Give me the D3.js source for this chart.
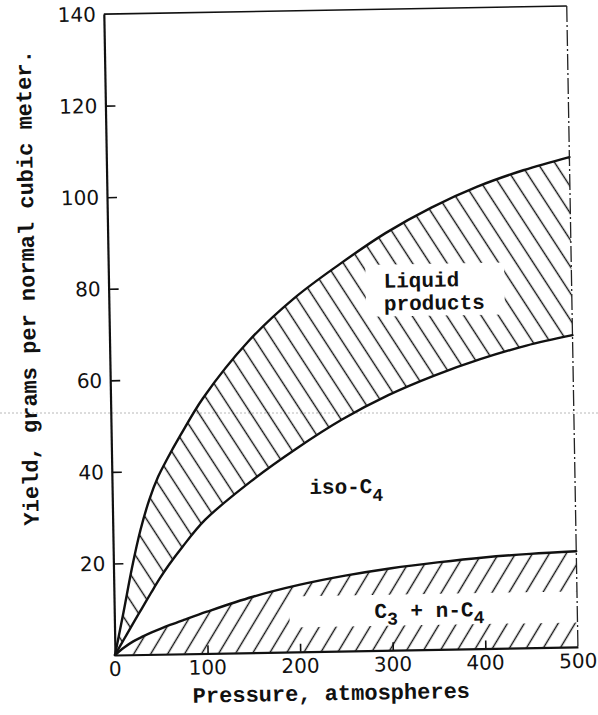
<!DOCTYPE html>
<html>
<head>
<meta charset="utf-8">
<script src="https://cdn.jsdelivr.net/npm/d3@7"></script>
<style>
  body { margin: 0; background: #fff; }
  text { fill: #111; }
</style>
</head>
<body>
<div id="chart"></div>
<script>
// pressure, atmospheres
var pressure = [0, 10, 20, 30, 40, 50, 60, 75, 100, 150, 200, 250, 300, 350, 400, 450, 500];
// top of the C3 + n-C4 band, g per normal m3
var c3nC4Top = [0, 1.6, 2.9, 3.9, 4.8, 5.6, 6.35, 7.4, 9.1, 12.2, 14.6, 16.45, 17.9, 19.0, 19.9, 20.5, 20.9];
// top of the iso-C4 band (all gas)
var isoC4Top = [0, 3.4, 6.8, 10.1, 13.4, 16.6, 19.5, 23.4, 29.2, 37.4, 44.4, 50.6, 55.7, 59.8, 63.2, 66.0, 68.1];
// top of the liquid products band (total yield)
var liquidTop = [0, 9.3, 19, 27.3, 33.8, 38.8, 42.6, 47.8, 55.8, 68, 77.2, 84.5, 91.1, 96.5, 100.9, 104.3, 107];

var xTicks = [0, 100, 200, 300, 400, 500];
var yTicks = [20, 40, 60, 80, 100, 120, 140];

var rows = pressure.map(function(p, i) {
  return {p: p, c3: c3nC4Top[i], iso: isoC4Top[i], liq: liquidTop[i]};
});

// the scan is a little turned, so the whole plot is turned with it
var ox = 115, oy = 655, pw = 463, ph = 641, tilt = -1;

var svg = d3.select("#chart").append("svg")
    .attr("width", 598).attr("height", 715);

svg.append("rect").attr("width", 598).attr("height", 715).attr("fill", "#fff");

// fold mark across the page
svg.append("line")
    .attr("x1", 0).attr("x2", 598).attr("y1", 413).attr("y2", 413)
    .attr("stroke", "#888").attr("stroke-width", 1)
    .attr("stroke-dasharray", "2,2").attr("opacity", 0.6);

var defs = svg.append("defs");

var g = svg.append("g")
    .attr("transform", "rotate(" + tilt + "," + ox + "," + oy + ")")
  .append("g")
    .attr("transform", "translate(" + ox + "," + (oy - ph) + ")");

var x = d3.scaleLinear().domain([0, 500]).range([0, pw]);
var y = d3.scaleLinear().domain([0, 140]).range([ph, 0]);

function hatch(id, angle, gap) {
  var p = defs.append("pattern")
      .attr("id", id)
      .attr("patternUnits", "userSpaceOnUse")
      .attr("width", gap).attr("height", gap)
      .attr("patternTransform", "rotate(" + angle + ")");
  p.append("line")
      .attr("x1", gap / 2).attr("x2", gap / 2)
      .attr("y1", -1).attr("y2", gap + 1)
      .attr("stroke", "#111").attr("stroke-width", 1.4);
}
hatch("back", -32, 14.5);
hatch("fwd", 32, 14.5);

var hatchLayer = g.append("g");
var lineLayer = g.append("g");
var textLayer = g.append("g");

var mono = "'Liberation Mono', 'DejaVu Sans Mono', monospace";

function typed(px, val, fs) {
  return textLayer.append("text")
      .attr("font-family", mono).attr("font-size", fs || 21).attr("font-weight", "bold")
      .attr("x", x(px)).attr("y", y(val));
}

// labels in the bands
var liq1 = typed(297, 79.2).text("Liquid");
var liq2 = typed(297, 74.2).text("products");

var iso = typed(213, 34.4);
iso.append("tspan").text("iso-C");
iso.append("tspan").attr("dy", 8).attr("font-size", 18).text("4");

var c3 = typed(281, 7.1);
c3.append("tspan").text("C");
c3.append("tspan").attr("dy", 7).attr("font-size", 18).text("3");
c3.append("tspan").attr("dy", -7).text(" + n-C");
c3.append("tspan").attr("dy", 7).attr("font-size", 18).text("4");

// gaps in the hatching round the labels
function gapMask(id, r) {
  var m = defs.append("mask").attr("id", id)
      .attr("maskUnits", "userSpaceOnUse")
      .attr("x", -50).attr("y", -50).attr("width", pw + 100).attr("height", ph + 100);
  m.append("rect").attr("x", -50).attr("y", -50)
      .attr("width", pw + 100).attr("height", ph + 100).attr("fill", "#fff");
  m.append("rect").attr("x", r.x).attr("y", r.y)
      .attr("width", r.w).attr("height", r.h).attr("fill", "#000");
}
var b1 = liq1.node().getBBox(), b2 = liq2.node().getBBox();
var bx = Math.min(b1.x, b2.x), bw = Math.max(b1.x + b1.width, b2.x + b2.width) - bx;
gapMask("liqGap", {x: bx - 18, y: b1.y - 6, w: bw + 38, h: b2.y + b2.height - b1.y + 6});
var c3y = y(7.1);
gapMask("c3Gap", {x: x(281) - 85, y: c3y - 23, w: pw - x(281) + 100, h: 31});

var curve = d3.curveCatmullRom.alpha(0.5);

var liquidArea = d3.area()
    .x(function(d) { return x(d.p); })
    .y0(function(d) { return y(d.iso); })
    .y1(function(d) { return y(d.liq); })
    .curve(curve);

var bottomArea = d3.area()
    .x(function(d) { return x(d.p); })
    .y0(y(0))
    .y1(function(d) { return y(d.c3); })
    .curve(curve);

hatchLayer.append("path")
    .attr("d", liquidArea(rows))
    .attr("fill", "url(#back)")
    .attr("mask", "url(#liqGap)");

hatchLayer.append("path")
    .attr("d", bottomArea(rows))
    .attr("fill", "url(#fwd)")
    .attr("mask", "url(#c3Gap)");

// the three curves
["liq", "iso", "c3"].forEach(function(k) {
  lineLayer.append("path")
      .attr("d", d3.line()
          .x(function(d) { return x(d.p); })
          .y(function(d) { return y(d[k]); })
          .curve(curve)(rows))
      .attr("fill", "none")
      .attr("stroke", "#111")
      .attr("stroke-width", 2.4)
      .attr("stroke-linecap", "round");
});

// frame
lineLayer.append("line")
    .attr("x1", x(0)).attr("x2", x(500)).attr("y1", y(140)).attr("y2", y(140))
    .attr("stroke", "#111").attr("stroke-width", 1.6);
lineLayer.append("line")
    .attr("x1", x(500)).attr("x2", x(500)).attr("y1", y(140)).attr("y2", y(0))
    .attr("stroke", "#222").attr("stroke-width", 1.3)
    .attr("stroke-dasharray", "16,3,2,3");

// axes, ticks pointing inward
var xAxis = lineLayer.append("g")
    .attr("transform", "translate(0," + ph + ")")
    .call(d3.axisTop(x).tickValues(xTicks.slice(1, 5)).tickSize(8).tickFormat("").tickSizeOuter(0));
var yAxis = lineLayer.append("g")
    .call(d3.axisRight(y).tickValues(yTicks.slice(0, 6)).tickSize(10).tickFormat("").tickSizeOuter(0));
[xAxis, yAxis].forEach(function(a) {
  a.select(".domain").attr("stroke", "#111").attr("stroke-width", 2.2);
  a.selectAll(".tick line").attr("stroke", "#111").attr("stroke-width", 1.6);
});

var tickFont = "'DejaVu Sans', sans-serif";

textLayer.selectAll(".xlab")
  .data(xTicks)
  .enter().append("text")
    .attr("x", function(d) { return x(d); })
    .attr("y", ph + 21)
    .attr("text-anchor", "middle")
    .attr("font-family", tickFont).attr("font-size", 20)
    .text(function(d) { return d; });

textLayer.selectAll(".ylab")
  .data(yTicks)
  .enter().append("text")
    .attr("x", -8)
    .attr("y", function(d) { return y(d); })
    .attr("dy", "0.36em")
    .attr("text-anchor", "end")
    .attr("font-family", tickFont).attr("font-size", 20)
    .text(function(d) { return d; });

// axis titles
textLayer.append("text")
    .attr("x", 77).attr("y", ph + 49)
    .attr("font-family", mono).attr("font-size", 22).attr("font-weight", "bold")
    .text("Pressure, atmospheres");

textLayer.append("text")
    .attr("transform", "translate(-74," + y(80.5) + ") rotate(-90)")
    .attr("text-anchor", "middle")
    .attr("font-family", mono).attr("font-size", 22).attr("font-weight", "bold")
    .text("Yield, grams per normal cubic meter.");
</script>
</body>
</html>
